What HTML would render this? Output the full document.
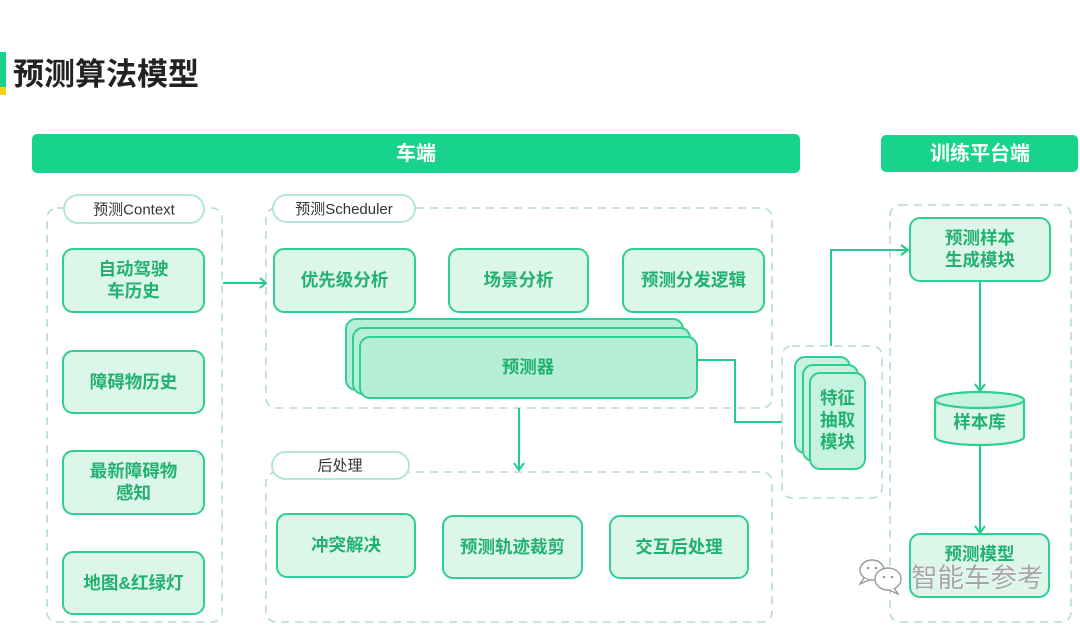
<!DOCTYPE html>
<html>
<head>
<meta charset="utf-8">
<style>
  html, body { margin: 0; padding: 0; background: #ffffff; }
  body { width: 1080px; height: 625px; overflow: hidden; position: relative;
         font-family: "Liberation Sans", "Noto Sans CJK SC", sans-serif; }
  svg { position: absolute; left: 0; top: 0; }
  text { font-family: "Liberation Sans", "Noto Sans CJK SC", sans-serif; }
</style>
</head>
<body>
<svg width="1080" height="625" viewBox="0 0 1080 625" xmlns="http://www.w3.org/2000/svg">
  <!-- title -->
  <rect x="0" y="52" width="6" height="35" fill="#17d38b"/>
  <rect x="0" y="87" width="6" height="8" fill="#f5d20a"/>
  <text x="13" y="85" font-size="31" font-weight="bold" fill="#222222">预测算法模型</text>

  <!-- headers -->
  <rect x="32" y="134" width="768" height="39" rx="5" fill="#17d38b"/>
  <text x="416" y="160" font-size="20" font-weight="bold" fill="#ffffff" text-anchor="middle">车端</text>
  <rect x="881" y="135" width="197" height="37" rx="5" fill="#17d38b"/>
  <text x="980" y="160" font-size="20" font-weight="bold" fill="#ffffff" text-anchor="middle">训练平台端</text>

  <!-- dashed groups -->
  <g fill="none" stroke="#b5dccd" stroke-width="1.6" stroke-dasharray="8 6">
    <rect x="47" y="208" width="175" height="414" rx="10"/>
    <rect x="266" y="208" width="506" height="200" rx="10"/>
    <rect x="266" y="472" width="506" height="150" rx="10"/>
    <rect x="782" y="346" width="100" height="152" rx="10"/>
    <rect x="890" y="205" width="181" height="417" rx="10"/>
  </g>

  <!-- pills -->
  <g fill="#ffffff" stroke="#a9e6cd" stroke-width="1.8">
    <rect x="64" y="195" width="140" height="28" rx="14"/>
    <rect x="273" y="195" width="142" height="27" rx="13.5"/>
    <rect x="272" y="452" width="137" height="27" rx="13.5"/>
  </g>
  <g font-size="15" fill="#333333" text-anchor="middle">
    <text x="134" y="214.5">预测Context</text>
    <text x="344" y="214">预测Scheduler</text>
    <text x="340" y="470.5">后处理</text>
  </g>

  <!-- boxes -->
  <g fill="#dcf6ea" stroke="#2fcf93" stroke-width="2">
    <rect x="63" y="249" width="141" height="63" rx="10"/>
    <rect x="63" y="351" width="141" height="62" rx="10"/>
    <rect x="63" y="451" width="141" height="63" rx="10"/>
    <rect x="63" y="552" width="141" height="62" rx="10"/>

    <rect x="274" y="249" width="141" height="63" rx="10"/>
    <rect x="449" y="249" width="139" height="63" rx="10"/>
    <rect x="623" y="249" width="141" height="63" rx="10"/>

    <rect x="277" y="514" width="138" height="63" rx="10"/>
    <rect x="443" y="516" width="139" height="62" rx="10"/>
    <rect x="610" y="516" width="138" height="62" rx="10"/>

    <rect x="910" y="218" width="140" height="63" rx="10"/>
    <rect x="910" y="534" width="139" height="63" rx="10"/>
  </g>

  <!-- predictor stack -->
  <g fill="#b6eed8" stroke="#2fcf93" stroke-width="2">
    <rect x="346" y="319" width="337" height="71" rx="10"/>
    <rect x="353" y="328" width="337" height="66" rx="10"/>
    <rect x="360" y="337" width="337" height="61" rx="10"/>
  </g>

  <!-- feature stack -->
  <g fill="#c6f2e0" stroke="#2fcf93" stroke-width="2">
    <rect x="795" y="357" width="55" height="96" rx="10"/>
    <rect x="803" y="365" width="55" height="96" rx="10"/>
    <rect x="810" y="373" width="55" height="96" rx="10"/>
  </g>

  <!-- cylinder -->
  <g stroke="#2fcf93" stroke-width="2.2">
    <path d="M935 400 L935 437 A44.5 8 0 0 0 1024 437 L1024 400" fill="#dcf6ea"/>
    <ellipse cx="979.5" cy="400" rx="44.5" ry="8" fill="#c6f2e0"/>
  </g>

  <!-- connectors -->
  <g fill="none" stroke="#22cc8c" stroke-width="2">
    <line x1="223" y1="283" x2="266" y2="283"/>
    <polyline points="260,278 266,283 260,288"/>
    <line x1="519" y1="408" x2="519" y2="470"/>
    <polyline points="514,463 519,470 524,463"/>
    <polyline points="697,360 735,360 735,422 782,422"/>
    <polyline points="831,346 831,250 908,250"/>
    <polyline points="901,245 908,250 901,255"/>
    <line x1="980" y1="282" x2="980" y2="391"/>
    <polyline points="975,384 980,391 985,384"/>
    <line x1="980" y1="446" x2="980" y2="533"/>
    <polyline points="975,526 980,533 985,526"/>
  </g>

  <!-- box labels -->
  <g font-size="17.5" font-weight="bold" fill="#23b170" text-anchor="middle">
    <text x="133.5" y="275">自动驾驶</text>
    <text x="133.5" y="297">车历史</text>
    <text x="133.5" y="388">障碍物历史</text>
    <text x="133.5" y="477">最新障碍物</text>
    <text x="133.5" y="499">感知</text>
    <text x="133.5" y="589">地图&amp;红绿灯</text>

    <text x="344.5" y="286">优先级分析</text>
    <text x="518.5" y="286">场景分析</text>
    <text x="693.5" y="286">预测分发逻辑</text>

    <text x="528" y="373">预测器</text>

    <text x="346" y="551">冲突解决</text>
    <text x="512.5" y="553">预测轨迹裁剪</text>
    <text x="679" y="553">交互后处理</text>

    <text x="837.5" y="404">特征</text>
    <text x="837.5" y="426">抽取</text>
    <text x="837.5" y="448">模块</text>

    <text x="980" y="244">预测样本</text>
    <text x="980" y="266">生成模块</text>
    <text x="979.5" y="428">样本库</text>
    <text x="979.5" y="560">预测模型</text>
  </g>

  <!-- watermark -->
  <g fill="#ffffff" stroke="#9a9a9a" stroke-width="1.4">
    <ellipse cx="872" cy="570" rx="12" ry="10"/>
    <path d="M864 578 L860 584 L869 580" />
    <ellipse cx="888" cy="579" rx="13" ry="11"/>
    <path d="M894 588 L898 594 L889 590"/>
  </g>
  <g fill="#9a9a9a">
    <circle cx="868" cy="568" r="1.3"/><circle cx="876" cy="568" r="1.3"/>
    <circle cx="884" cy="577" r="1.3"/><circle cx="892" cy="577" r="1.3"/>
  </g>
  <text x="911" y="587" font-size="26.5" fill="#a5a5a5" stroke="#ffffff" stroke-width="0.8" paint-order="stroke">智能车参考</text>
</svg>
</body>
</html>
